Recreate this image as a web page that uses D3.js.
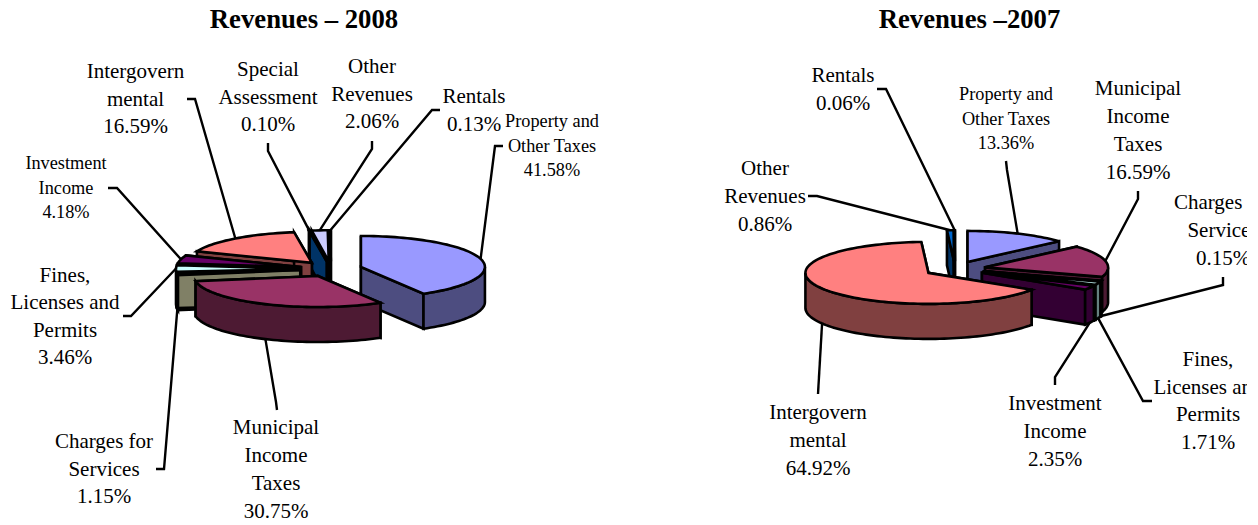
<!DOCTYPE html>
<html>
<head>
<meta charset="utf-8">
<script src="https://cdn.jsdelivr.net/npm/d3@7"></script>
<style>
  body { margin: 0; background: #fff; }
  text { font-family: "Liberation Serif", "Times New Roman", serif; fill: #000; }
</style>
</head>
<body>
<div id="chart"></div>
<script>
// values, clockwise from 12 o'clock
const labels2008 = [
  ['Property and', 'Other Taxes'], ['Municipal', 'Income', 'Taxes'], ['Charges for', 'Services'],
  ['Fines,', 'Licenses and', 'Permits'], ['Investment', 'Income'], ['Intergovern', 'mental'],
  ['Special', 'Assessment'], ['Other', 'Revenues'], ['Rentals']
]
const values2008 = [41.58, 30.75, 1.15, 3.46, 4.18, 16.59, 0.10, 2.06, 0.13]

const labels2007 = [
  ['Property and', 'Other Taxes'], ['Municipal', 'Income', 'Taxes'], ['Charges for', 'Services'],
  ['Fines,', 'Licenses and', 'Permits'], ['Investment', 'Income'], ['Intergovern', 'mental'],
  ['Other', 'Revenues'], ['Rentals']
]
const values2007 = [13.36, 16.59, 0.15, 1.71, 2.35, 64.92, 0.86, 0.06]

const palette = ['#9999ff', '#993366', '#ffffcc', '#ccffff', '#660066', '#ff8080', '#0066cc', '#ccccff']
const palette2008 = palette.concat(['#000080'])

// label layout: [centre x, first baseline, line step, font size], then the leader's fixed points
const layout2008 = [
  { label: [552, 127, 24.5, 18.3], leader: [[503, 146], [495, 146]] },
  { label: [276, 434, 28, 21], leader: [[277, 410], [276, 402]] },
  { label: [104, 448, 27.7, 21], leader: [[156, 469], [164, 469]] },
  { label: [65, 282, 27.4, 21], leader: [[123, 316], [131, 316]] },
  { label: [66, 169, 24.5, 18.3], leader: [[108, 188], [117, 188]] },
  { label: [135.5, 78, 27.7, 21], leader: [[187, 99], [195, 99]] },
  { label: [268, 76, 27.5, 21], leader: [[268, 143], [268, 151]] },
  { label: [372, 73, 27.5, 21], leader: [[372, 141], [372, 149]] },
  { label: [474, 103, 27.5, 21], leader: [[440, 110], [432, 110]] }
]
const layout2007 = [
  { label: [1006, 100, 24.5, 18.3], leader: [[1006, 161], [1007, 170]] },
  { label: [1138, 95, 28, 21], leader: [[1138, 191], [1138, 199]] },
  { label: [1223, 209, 28, 21], leader: [[1223, 277], [1223, 285]] },
  { label: [1208, 366, 27.7, 21], leader: [[1152, 401], [1143, 401]] },
  { label: [1055, 410, 28, 21], leader: [[1055, 385], [1055, 377]] },
  { label: [818, 419, 28, 21], leader: [[818, 394]] },
  { label: [765, 175, 28, 21], leader: [[808, 196], [817, 196]] },
  { label: [843, 82, 28, 21], leader: [[877, 89], [886, 89]] }
]

const fullWidth = 1258
const fullHeight = 525
const clipWidth = 1247
const depth = 35
const explode = 0.25
const rad = Math.PI / 180
const line = d3.line()
const percent = d3.format('.2f')

const svg = d3.select('#chart').append('svg')
  .attr('width', fullWidth)
  .attr('height', fullHeight)

svg.append('clipPath').attr('id', 'page')
  .append('rect').attr('width', clipWidth).attr('height', fullHeight)

const root = svg.append('g').attr('clip-path', 'url(#page)')

function drawPie(opts) {
  const g = root.append('g')
  const pie = d3.pie().sort(null).startAngle(0).endAngle(2 * Math.PI)
  const slices = pie(opts.values).map(function(d, i) {
    const a0 = d.startAngle
    const a1 = d.endAngle
    const mid = (a0 + a1) / 2
    return { i: i, a0: a0, a1: a1, mid: mid, value: d.value,
      ox: explode * Math.sin(mid), oy: -explode * Math.cos(mid) }
  })

  // unit ellipse to page
  const x = d3.scaleLinear().domain([-1, 1]).range([opts.cx - opts.rx, opts.cx + opts.rx])
  const y = d3.scaleLinear().domain([-1, 1]).range([opts.cy - opts.ry, opts.cy + opts.ry])

  function point(s, r, a, drop) {
    return [x(s.ox + r * Math.sin(a)), y(s.oy - r * Math.cos(a)) + drop]
  }
  function arcPoints(s, a0, a1, drop) {
    const n = Math.max(2, Math.ceil((a1 - a0) / (2 * rad)))
    return d3.range(n + 1).map(function(k) { return point(s, 1, a0 + (a1 - a0) * k / n, drop) })
  }

  // leaders go under the slices
  slices.forEach(function(s) {
    const front = s.mid > Math.PI / 2 && s.mid < 3 * Math.PI / 2
    const end = point(s, 1, s.mid, front ? depth : 0)
    g.append('path')
      .attr('d', line(opts.layout[s.i].leader.concat([end])))
      .attr('fill', 'none')
      .attr('stroke', '#000')
      .attr('stroke-width', 2.4)
  })

  // back slices first
  const order = slices.slice().sort(function(a, b) { return d3.ascending(-Math.cos(a.mid), -Math.cos(b.mid)) })
  order.forEach(function(s) {
    const top = opts.colors[s.i]
    const c = d3.rgb(top)
    const side = d3.rgb(c.r / 2, c.g / 2, c.b / 2).formatHex()
    const sg = g.append('g')
      .attr('stroke', '#000')
      .attr('stroke-width', 2.6)
      .attr('stroke-linejoin', 'miter')

    // radial walls
    ;[s.a0, s.a1].forEach(function(a) {
      const wall = [point(s, 0, a, 0), point(s, 1, a, 0), point(s, 1, a, depth), point(s, 0, a, depth)]
      sg.append('path').attr('d', line(wall) + 'Z').attr('fill', side)
    })

    // outer wall, only the part that faces us
    const f0 = Math.max(s.a0, Math.PI / 2)
    const f1 = Math.min(s.a1, 3 * Math.PI / 2)
    if (f1 > f0) {
      const wall = arcPoints(s, f0, f1, 0).concat(arcPoints(s, f0, f1, depth).reverse())
      sg.append('path').attr('d', line(wall) + 'Z').attr('fill', side)
    }

    // top face
    const face = [point(s, 0, s.a0, 0)].concat(arcPoints(s, s.a0, s.a1, 0))
    sg.append('path').attr('d', line(face) + 'Z').attr('fill', top)
  })

  // labels
  slices.forEach(function(s) {
    const place = opts.layout[s.i].label
    const rows = opts.labels[s.i].concat([percent(s.value) + '%'])
    rows.forEach(function(row, k) {
      g.append('text')
        .attr('x', place[0])
        .attr('y', place[1] + k * place[2])
        .attr('text-anchor', 'middle')
        .attr('font-size', place[3])
        .text(row)
    })
  })

  g.append('text')
    .attr('x', opts.titleX)
    .attr('y', 28)
    .attr('text-anchor', 'middle')
    .attr('font-size', 26.7)
    .attr('font-weight', 'bold')
    .text(opts.title)
}

drawPie({ title: 'Revenues \u2013 2008', titleX: 304, cx: 331, cy: 269, rx: 124, ry: 31,
  values: values2008, labels: labels2008, layout: layout2008, colors: palette2008 })
drawPie({ title: 'Revenues \u20132007', titleX: 969.5, cx: 955, cy: 269, rx: 123, ry: 31,
  values: values2007, labels: labels2007, layout: layout2007, colors: palette })
</script>
</body>
</html>
